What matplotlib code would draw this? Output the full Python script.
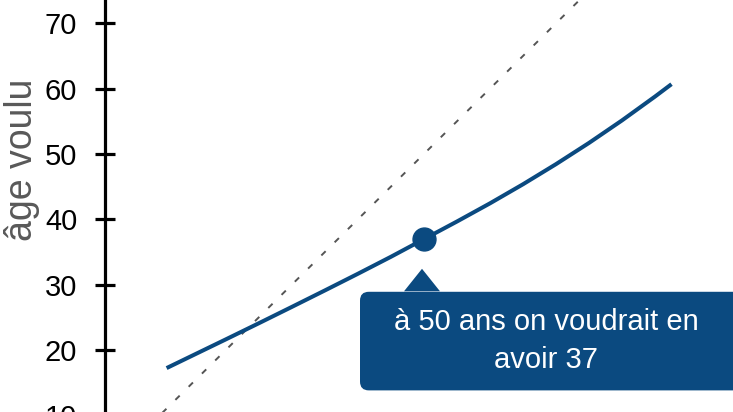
import matplotlib
matplotlib.use("Agg")
import matplotlib.pyplot as plt
from matplotlib.patches import FancyBboxPatch, Polygon

plt.rcParams['font.family'] = ['Liberation Sans', 'DejaVu Sans']

# data
ages = [11, 15, 20, 25, 30, 35, 40, 45, 50, 55, 60, 65, 70, 75, 80, 85, 87.5]
wanted_age = [17.2, 19.16, 21.61, 24.08, 26.58, 29.1, 31.65, 34.25, 36.95, 39.65,
              42.43, 45.35, 48.43, 51.68, 55.13, 58.78, 60.68]
identity = [0, 100]
highlight_age = 50
highlight_value = 37
yticks = [10, 20, 30, 40, 50, 60, 70]
ylabel = "âge voulu"
note = "à 50 ans on voudrait en\navoir 37"

BLUE = '#0b4a80'
W, H = 733, 412
fig = plt.figure(figsize=(W / 100, H / 100), dpi=100)

# axes geometry (pixels)
x0_px = 105
px_per_unit_y = 6.53
y70_px = 23.3
px_per_unit_x = 6.6
x50_px = 424
ymin = 0
ymax = 70 + y70_px / px_per_unit_y
bottom_px = y70_px + 70 * px_per_unit_y  # pixel (from top) for y=0
xmin = 50 - (x50_px - x0_px) / px_per_unit_x
xmax = 50 + (W - x50_px) / px_per_unit_x

ax = fig.add_axes([x0_px / W, 1 - bottom_px / H, (W - x0_px) / W, bottom_px / H])
ax.set_xlim(xmin, xmax)
ax.set_ylim(ymin, ymax)
for s in ['top', 'right', 'bottom']:
    ax.spines[s].set_visible(False)
ax.spines['left'].set_linewidth(2.3)
ax.set_xticks([])
ax.set_yticks(yticks)
ax.tick_params(axis='y', direction='inout', length=14, width=2.3, pad=13,
               labelsize=21, colors='black')

ax.plot(identity, identity, color='#555555', lw=1.4, dashes=(3.1, 6.5), zorder=2)
ax.plot(ages, wanted_age, color=BLUE, lw=2.9, solid_capstyle='butt',
        solid_joinstyle='round', zorder=3)
ax.plot([highlight_age], [highlight_value], 'o', color=BLUE, ms=16.5, zorder=4)

fig.text(22 / W, 1 - 160 / H, ylabel, rotation=90, ha='center', va='center',
         fontsize=27, color='#595959')

# callout box anchored on the highlighted point
fig.canvas.draw()
px, py = ax.transData.transform((highlight_age, highlight_value))
apex_y = py - 30
base_y = apex_y - 23
box_top = base_y
box_bottom = box_top - 98.6
box_left = px - 64
box_right = W + 30
inv = fig.transFigure.inverted()
(bl_x, bl_y) = inv.transform((box_left, box_bottom))
(tr_x, tr_y) = inv.transform((box_right, box_top))
box = FancyBboxPatch((bl_x, bl_y), tr_x - bl_x, tr_y - bl_y,
                     boxstyle='round,pad=0,rounding_size=0.012',
                     transform=fig.transFigure, facecolor=BLUE, edgecolor='none',
                     mutation_aspect=W / H, zorder=5)
fig.add_artist(box)
tri = Polygon([inv.transform((px - 2, apex_y)), inv.transform((px - 20, base_y + 0.5)),
               inv.transform((px + 16, base_y + 0.5))], closed=True,
              transform=fig.transFigure, facecolor=BLUE, edgecolor='none', zorder=5)
fig.add_artist(tri)
cx, cy = inv.transform((546, (box_top + box_bottom) / 2))
fig.text(cx, cy, note, ha='center', va='center', color='white', fontsize=21,
         linespacing=1.45, zorder=6)

fig.savefig('out.png', dpi=100)
